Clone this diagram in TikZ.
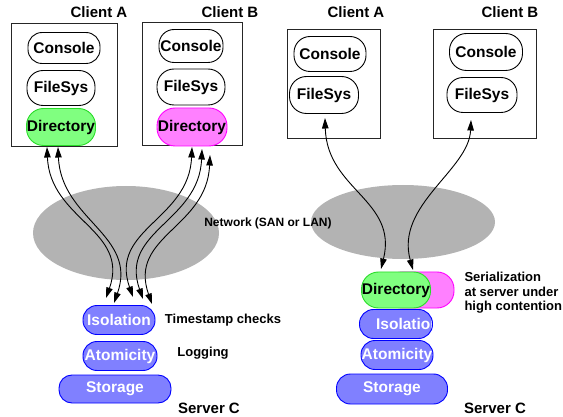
\documentclass[tikz,border=0pt]{standalone}
\usepackage{fontspec}
\setmainfont{Liberation Sans}
\usetikzlibrary{shapes.geometric,arrows.meta}
\definecolor{myGreen}{RGB}{128,255,128}
\definecolor{myGreenD}{RGB}{40,220,40}
\definecolor{myMag}{RGB}{255,128,255}
\definecolor{myMagD}{RGB}{255,0,255}
\definecolor{myBlue}{RGB}{128,128,255}
\definecolor{myBlueD}{RGB}{0,0,255}
\definecolor{myGray}{RGB}{179,179,179}

\begin{document}
\begin{tikzpicture}[x=1pt, y=-1pt,
  box/.style={draw=black!85, line width=1pt, inner sep=0pt},
  mod/.style={draw, line width=0.9pt, inner sep=0pt, rounded corners=14pt, minimum height=31pt, font=\fontsize{15.5}{16}\selectfont\bfseries},
  dirG/.style={mod, draw=myGreenD, fill=myGreen},
  dirM/.style={mod, draw=myMagD, fill=myMag},
  srv/.style={mod, draw=myBlueD, fill=myBlue, text=white, minimum height=29pt},
  head/.style={font=\fontsize{15}{16}\selectfont\bfseries},
  lbl/.style={font=\fontsize{13}{14.5}\selectfont\bfseries},
  net/.style={ellipse, fill=myGray, inner sep=0pt},
  link/.style={line width=0.9pt, {Triangle[length=10.5pt,width=6.5pt]}-{Triangle[length=10.5pt,width=6.5pt]}}]
  \useasboundingbox (0,0) rectangle (563,417);
  % Netzwerk
  \node[net, minimum width=186pt, minimum height=94pt] (netL) at (126,233) {};
  \node[net, minimum width=184pt, minimum height=74pt] (netR) at (403,222) {};
  \node[font=\fontsize{12}{13}\selectfont\bfseries] (netlbl) at (268,223) {Network (SAN or LAN)};
  % Clients links
  \node[head] (cliA) at (99,12) {Client A};
  \node[head] (cliB) at (230,12) {Client B};
  \node[box, minimum width=106pt, minimum height=123pt] (boxA) at (64,85.5) {};
  \node[box, minimum width=100pt, minimum height=123pt] (boxB) at (192,84.5) {};
  \node[mod, minimum width=72pt] (conA) at (64,48) {Console};
  \node[mod, minimum width=68pt, minimum height=35pt, rounded corners=16pt] (fsA) at (61,88) {FileSys};
  \node[dirG, minimum width=69pt, minimum height=37pt, rounded corners=17pt] (dirA) at (61,127) {Directory};
  \node[mod, minimum width=64pt, minimum height=33pt, rounded corners=15pt] (conB) at (191,46) {Console};
  \node[mod, minimum width=68pt, minimum height=36pt, rounded corners=17pt] (fsB) at (191,87) {FileSys};
  \node[dirM, minimum width=70pt, minimum height=38pt, rounded corners=18pt] (dirB) at (192,127) {Directory};
  % Server links
  \node[srv, minimum width=72pt] (isoL) at (119,320) {Isolation};
  \node[srv, minimum width=74pt] (atoL) at (120,356) {Atomicity};
  \node[srv, minimum width=112pt, minimum height=28pt, rounded corners=13pt] (stoL) at (115,389) {Storage};
  \node[lbl] (tslbl) at (223,320) {Timestamp checks};
  \node[lbl] (loglbl) at (203,353) {Logging};
  \node[head] (srvL) at (209,408) {Server C};
  % Clients rechts
  \node[head] (cliA2) at (356,12) {Client A};
  \node[head] (cliB2) at (510,12) {Client B};
  \node[box, minimum width=93pt, minimum height=109pt] (boxA2) at (333.5,84.5) {};
  \node[box, minimum width=103pt, minimum height=109pt] (boxB2) at (484.5,84.5) {};
  \node[mod, minimum width=72pt, minimum height=35pt, rounded corners=16pt] (conA2) at (330,54) {Console};
  \node[mod, minimum width=69pt, minimum height=37pt, rounded corners=17pt] (fsA2) at (324,95) {FileSys};
  \node[mod, minimum width=73pt, minimum height=37pt, rounded corners=17pt] (conB2) at (486,52) {Console};
  \node[mod, minimum width=70pt, minimum height=35pt, rounded corners=16pt] (fsB2) at (482,95) {FileSys};
  % Server rechts
  \node[dirM, minimum width=69pt, minimum height=36pt, rounded corners=17pt] (dirM2) at (419.5,290) {};
  \node[dirG, minimum width=69pt, minimum height=36pt, rounded corners=17pt] (dirG2) at (396,290) {Directory};
  \node[srv, minimum width=73pt, path picture={
    \node[text=white, font=\fontsize{15.5}{16}\selectfont\bfseries] at ([xshift=12pt]path picture bounding box.center) {Isolation};}] (isoR) at (396,324) {};
  \node[srv, minimum width=72pt] (atoR) at (397,355) {Atomicity};
  \node[srv, minimum width=111pt, minimum height=30pt] (stoR) at (392,389) {Storage};
  \node[lbl, anchor=west, align=left] (serlbl) at (461,293) {Serialization\\at server under\\high contention};
  \node[head] (srvR) at (495,408) {Server C};
  % Verbindungen
  \coordinate (pA1) at (47,147);  \coordinate (qA1) at (106,298);
  \coordinate (pA2) at (58,147);  \coordinate (qA2) at (114,303);
  \coordinate (pB1) at (192,147); \coordinate (qB1) at (133,297);
  \coordinate (pB2) at (202,149); \coordinate (qB2) at (143,299);
  \coordinate (pB3) at (210,155); \coordinate (qB3) at (152,304);
  \foreach \a in {A1, A2} {
    \draw[link] (p\a) .. controls +(3,73) and +(24,-68) .. (q\a);
  }
  \foreach \b in {B1, B2, B3} {
    \draw[link] (p\b) .. controls +(-3,73) and +(-24,-68) .. (q\b);
  }
  \coordinate (pA3) at (325,118); \coordinate (qA3) at (381,269);
  \coordinate (pB4) at (471,120); \coordinate (qB4) at (413,270);
  \draw[link] (pA3) .. controls +(2,72) and +(17,-69) .. (qA3);
  \draw[link] (pB4) .. controls +(-2,50) and +(-18,-65) .. (qB4);
\end{tikzpicture}
\end{document}
